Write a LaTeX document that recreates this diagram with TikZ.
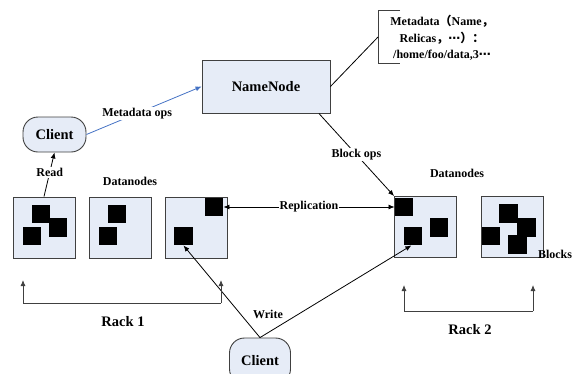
\documentclass[tikz,border=0pt]{standalone}
\usepackage{fontspec}
\setmainfont{Liberation Serif}
\newfontfamily\cjk{Noto Sans CJK SC}
\newfontfamily\symf{DejaVu Sans}
\usetikzlibrary{arrows.meta}
\definecolor{boxfill}{HTML}{E6ECF7}
\definecolor{boxline}{HTML}{404040}
\definecolor{opsblue}{HTML}{4472C4}
\tikzset{
  lbl/.style={font=\bfseries\fontsize{12}{14}\selectfont, inner sep=1pt},
  biglbl/.style={font=\bfseries\fontsize{14.5}{16}\selectfont, inner sep=1pt},
  gap/.style={lbl, fill=white},
  servbox/.style={draw=boxline, fill=boxfill, line width=0.9pt, inner sep=0pt,
    font=\bfseries\fontsize{14.5}{16}\selectfont},
  clientbox/.style={servbox, rounded corners=15pt},
  rackbox/.style={draw=boxline, fill=boxfill, line width=0.9pt, inner sep=0pt,
    minimum width=62pt, minimum height=61pt},
  blk/.style={fill=black, inner sep=0pt, minimum size=18.5pt},
  conn/.style={line width=0.8pt, -{Latex[length=6pt,width=5pt]}},
  plain/.style={line width=0.8pt},
}
\begin{document}
\begin{tikzpicture}[x=1pt, y=-1pt]
\useasboundingbox (0,0) rectangle (572,373);

% name node and its metadata note
\node[servbox, minimum width=128pt, minimum height=53pt] (namenode) at (266,86.5) {NameNode};
\coordinate (noteTop) at (400,10);
\coordinate (noteBot) at (400,63);
\coordinate (noteMid) at (378,37);
\draw[plain, boxline] (noteTop) -- (378,10) -- (378,63) -- (noteBot);
\draw[plain] (namenode.east) -- (noteMid);
\node[lbl, align=center, font=\bfseries\fontsize{12}{16.5}\selectfont] (note) at (442,38)
  {Metadata{\cjk（}Name{\cjk，}\\Relicas{\cjk，}{\symf ⋯}{\cjk）：}\\/home/foo/data,3{\symf ⋯}};

% clients
\node[clientbox, minimum width=63pt, minimum height=35pt] (client1) at (54.5,134.5) {Client};
\node[clientbox, minimum width=61pt, minimum height=46pt] (client2) at (260,361) {Client};

% rack 1 datanodes
\node[rackbox] (dn1) at (44,227.5) {};
\node[rackbox] (dn2) at (120.5,227.5) {};
\node[rackbox] (dn3) at (196,227.5) {};
% rack 2 datanodes
\node[rackbox] (dn4) at (425.5,227) {};
\node[rackbox] (dn5) at (512,227) {};

% blocks
\node[blk] (b1a) at (41,214) {};
\node[blk] (b1b) at (58,227.5) {};
\node[blk] (b1c) at (32,236) {};
\node[blk] (b2a) at (117,214) {};
\node[blk] (b2b) at (108,236) {};
\node[blk] (b3a) at (214,207) {};
\node[blk] (b3b) at (183.5,236) {};
\node[blk] (b4a) at (404,207) {};
\node[blk] (b4b) at (439,227.5) {};
\node[blk] (b4c) at (413,236) {};
\node[blk] (b5a) at (508.5,213.5) {};
\node[blk] (b5b) at (526.5,227.5) {};
\node[blk] (b5c) at (491,236) {};
\node[blk] (b5d) at (517.5,244.5) {};

% labels
\node[lbl] (dnlabel1) at (130,181) {Datanodes};
\node[lbl] (dnlabel2) at (457,173) {Datanodes};
\node[lbl] (blocks) at (555,254) {Blocks};
\node[lbl] (write) at (268,314) {Write};
\node[biglbl] (rack1) at (123,322) {Rack 1};
\node[biglbl] (rack2) at (470,330) {Rack 2};

% connectors
\draw[conn, opsblue] (client1.east) -- node[gap, text=black, pos=0.44] {Metadata ops} (namenode.west);
\draw[conn] (dn1.north) -- node[gap, pos=0.55] {Read} (client1.south);
\draw[conn] (namenode.-27) -- node[gap, pos=0.5] {Block ops} (dn4.north west);
\draw[line width=0.8pt, {Latex[length=6pt,width=5pt]}-{Latex[length=6pt,width=5pt]}]
  (b3a.east) -- node[gap] {Replication} (b4a.west);
\draw[conn] (client2.north) -- (b3b.south);
\draw[conn] (client2.north) -- (b4c.-100);

% rack brackets
\coordinate (r1l) at (23,303);
\coordinate (r1r) at (221,303);
\coordinate (r1lt) at (23,280);
\coordinate (r1rt) at (221,280);
\draw[conn, boxline] (r1r) -- (r1rt);
\draw[conn, boxline] (r1l) -- (r1lt);
\draw[plain, boxline] (r1l) -- (r1r);
\coordinate (r2l) at (404,311);
\coordinate (r2r) at (533,311);
\coordinate (r2lt) at (404,285);
\coordinate (r2rt) at (533,285);
\draw[conn, boxline] (r2l) -- (r2lt);
\draw[conn, boxline] (r2r) -- (r2rt);
\draw[plain, boxline] (r2l) -- (r2r);
\end{tikzpicture}
\end{document}
